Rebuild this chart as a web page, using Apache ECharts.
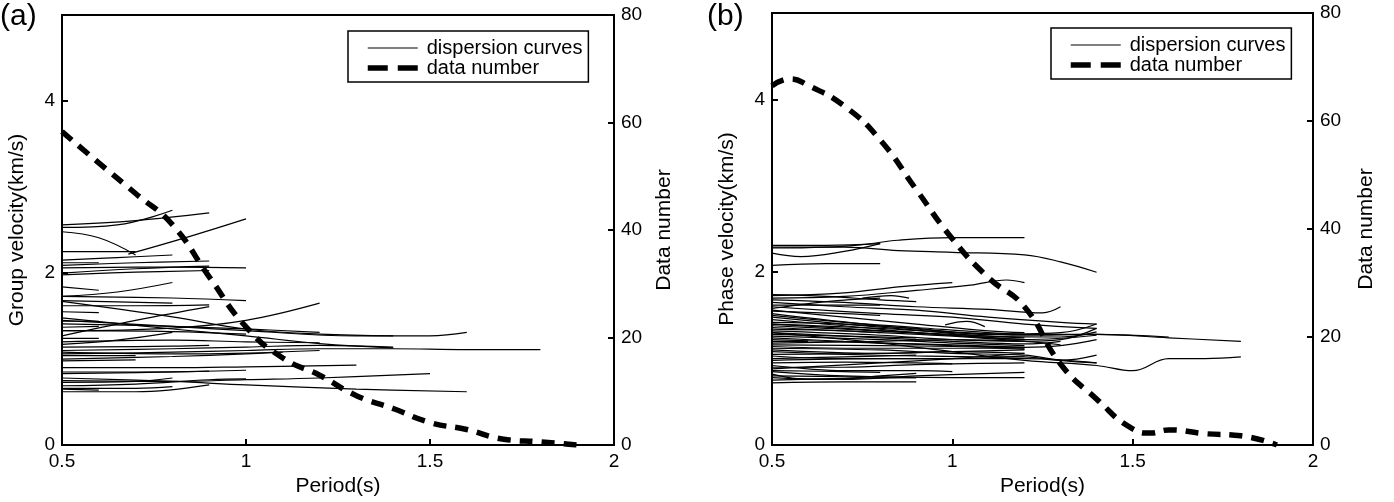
<!DOCTYPE html>
<html>
<head>
<meta charset="utf-8">
<script src="https://cdn.jsdelivr.net/npm/echarts@6/dist/echarts.min.js"></script>
<style>
  html, body { margin: 0; padding: 0; background: #fff; }
  #chart { width: 1394px; height: 502px; }
</style>
</head>
<body>
<div id="chart"></div>
<script>
// data number curves (right axis)
var periodsA = [0.5, 0.6, 0.7, 0.8, 0.9, 1.0, 1.1, 1.2, 1.3, 1.4, 1.5, 1.6, 1.7, 1.8, 1.9]
var numbersA = [58.3, 52.5, 46.8, 41, 31.3, 22, 16.2, 13, 9.2, 6.8, 4.2, 2.9, 1.1, 0.6, 0]
var periodsB = [0.5, 0.55, 0.6, 0.7, 0.8, 0.9, 1.0, 1.1, 1.2, 1.3, 1.4, 1.5, 1.55, 1.6, 1.7, 1.8, 1.9]
var numbersB = [66.5, 67.8, 66.6, 62.8, 56.5, 47.3, 38.2, 31, 25.6, 15, 8.5, 3, 2.2, 2.8, 2.1, 1.7, 0]

// group velocity dispersion curves, panel (a): [period, km/s]
var curvesA = [
  [[0.5,2.56],[0.7,2.61],[0.9,2.70]],
  [[0.5,2.53],[0.65,2.56],[0.8,2.73]],
  [[0.5,2.48],[0.6,2.41],[0.7,2.21]],
  [[0.68,2.22],[0.85,2.43],[1.0,2.63]],
  [[0.5,2.25],[0.7,2.25]],
  [[0.5,2.15],[0.65,2.18],[0.8,2.21]],
  [[0.5,2.12],[0.6,2.12]],
  [[0.5,2.09],[0.7,2.12],[0.9,2.14]],
  [[0.5,2.06],[0.8,2.07],[1.0,2.06]],
  [[0.5,2.00],[0.7,2.05],[0.9,2.08]],
  [[0.5,1.98],[0.7,2.01],[0.9,2.03]],
  [[0.5,1.84],[0.6,1.80]],
  [[0.5,1.73],[0.65,1.78],[0.8,1.89]],
  [[0.5,1.73],[0.8,1.71],[1.0,1.68]],
  [[0.5,1.68],[0.8,1.65]],
  [[0.5,1.67],[0.8,1.49],[1.0,1.35],[1.2,1.29],[1.4,1.27]],
  [[0.5,1.62],[0.7,1.62],[0.9,1.63]],
  [[0.5,1.27],[0.7,1.45],[0.9,1.61]],
  [[0.5,1.55],[0.6,1.54]],
  [[0.5,1.45],[0.8,1.38],[1.0,1.33],[1.3,1.27],[1.5,1.27],[1.6,1.31]],
  [[0.5,1.44],[0.6,1.44]],
  [[0.5,1.41],[0.8,1.38],[1.0,1.35],[1.2,1.31]],
  [[0.5,1.33],[0.8,1.36],[1.0,1.45],[1.2,1.65]],
  [[0.5,1.37],[0.6,1.38]],
  [[0.5,1.33],[0.8,1.32],[1.0,1.29]],
  [[0.5,1.48],[0.8,1.35],[1.0,1.27],[1.2,1.18],[1.4,1.13]],
  [[0.5,1.24],[0.6,1.24]],
  [[0.5,1.20],[0.8,1.22],[1.0,1.20],[1.2,1.19]],
  [[0.5,1.14],[0.8,1.15],[0.9,1.16]],
  [[0.5,1.10],[0.8,1.12],[1.0,1.14],[1.2,1.16],[1.4,1.14]],
  [[0.5,1.06],[0.8,1.08],[1.0,1.10],[1.2,1.12],[1.4,1.12],[1.6,1.11],[1.8,1.11]],
  [[0.5,1.04],[0.7,1.04]],
  [[0.5,1.00],[0.8,1.03],[1.0,1.06],[1.1,1.08]],
  [[0.5,1.08],[0.8,1.06],[1.0,1.07],[1.2,1.10]],
  [[0.5,0.98],[0.7,0.99]],
  [[0.5,0.90],[0.8,0.90],[1.0,0.91],[1.3,0.93]],
  [[0.5,0.85],[0.7,0.85],[0.9,0.86]],
  [[0.5,0.83],[0.8,0.85],[1.0,0.87]],
  [[0.5,0.75],[0.8,0.74],[1.0,0.76],[1.2,0.78],[1.5,0.83]],
  [[0.5,0.78],[0.8,0.74],[1.0,0.70],[1.3,0.65],[1.6,0.62]],
  [[0.5,0.73],[0.7,0.74],[0.8,0.78]],
  [[0.5,0.69],[0.7,0.71],[0.9,0.76],[1.0,0.77]],
  [[0.5,0.66],[0.7,0.66],[0.8,0.68]],
  [[0.5,0.62],[0.7,0.62],[0.9,0.70]],
  [[0.5,0.65],[0.6,0.64]],
  [[0.5,1.17],[0.65,1.22],[0.8,1.31]]
]

// phase velocity dispersion curves, panel (b): [period, km/s]
var curvesB = [
  [[0.5,2.31],[0.65,2.31],[0.8,2.33]],
  [[0.5,2.28],[0.65,2.29],[0.75,2.32],[0.85,2.37],[1.0,2.40],[1.2,2.40]],
  [[0.5,2.29],[0.7,2.29],[0.85,2.25],[1.0,2.23],[1.2,2.20],[1.3,2.12],[1.4,2.00]],
  [[0.5,2.22],[0.58,2.18],[0.7,2.24],[0.8,2.33]],
  [[0.5,2.08],[0.65,2.10],[0.8,2.10]],
  [[0.5,1.73],[0.7,1.76],[0.85,1.83],[1.0,1.88]],
  [[0.5,1.70],[0.7,1.72],[0.9,1.79],[1.05,1.85],[1.15,1.91],[1.2,1.88]],
  [[0.5,1.74],[0.65,1.72],[0.8,1.68],[0.9,1.66]],
  [[0.5,1.68],[0.7,1.65],[0.9,1.60],[1.1,1.57],[1.25,1.53],[1.3,1.60]],
  [[0.5,1.65],[0.7,1.60],[0.9,1.56],[1.1,1.48],[1.3,1.42],[1.4,1.40]],
  [[0.5,1.62],[0.7,1.62],[0.8,1.62]],
  [[0.5,1.55],[0.7,1.52],[0.8,1.50]],
  [[0.5,1.58],[0.65,1.66],[0.8,1.70]],
  [[0.5,1.50],[0.7,1.42],[0.9,1.36],[1.1,1.30],[1.2,1.28]],
  [[0.5,1.52],[0.8,1.38],[1.0,1.31],[1.2,1.27],[1.4,1.28],[1.6,1.24],[1.8,1.20]],
  [[0.5,1.30],[0.8,1.18],[1.0,1.08],[1.2,0.98],[1.4,0.92],[1.5,0.86],[1.6,1.00],[1.7,1.00],[1.8,1.02]],
  [[0.5,1.40],[0.8,1.35],[1.0,1.30],[1.2,1.28],[1.4,1.28],[1.6,1.25]],
  [[0.5,1.45],[0.7,1.38],[0.9,1.30],[1.1,1.24],[1.2,1.22],[1.4,1.27]],
  [[0.5,1.42],[0.7,1.40],[0.9,1.35],[1.1,1.28],[1.3,1.30],[1.4,1.40]],
  [[0.5,1.40],[0.7,1.35],[0.9,1.30],[1.2,1.24]],
  [[0.5,1.38],[0.7,1.34],[1.0,1.27],[1.2,1.22]],
  [[0.5,1.36],[0.8,1.30],[1.0,1.26],[1.2,1.20]],
  [[0.5,1.34],[0.7,1.32],[0.8,1.30]],
  [[0.5,1.32],[0.8,1.27],[1.0,1.22],[1.2,1.20],[1.3,1.22],[1.4,1.35]],
  [[0.5,1.30],[0.8,1.24],[1.0,1.20],[1.2,1.17],[1.3,1.20]],
  [[0.5,1.28],[0.7,1.26],[0.9,1.24]],
  [[0.5,1.26],[0.8,1.22],[1.0,1.18],[1.2,1.15]],
  [[0.5,1.24],[0.7,1.20],[1.0,1.15],[1.2,1.13],[1.3,1.15],[1.4,1.22]],
  [[0.5,1.22],[0.8,1.18],[1.0,1.16],[1.2,1.13]],
  [[0.5,1.20],[0.6,1.20]],
  [[0.5,1.18],[0.8,1.20],[1.0,1.22],[1.2,1.20],[1.3,1.16]],
  [[0.5,1.16],[0.8,1.15],[1.0,1.14],[1.2,1.12]],
  [[0.5,1.14],[0.7,1.12],[0.9,1.12],[1.1,1.12],[1.2,1.11]],
  [[0.5,1.10],[0.8,1.06],[1.0,1.08],[1.2,1.10]],
  [[0.5,1.08],[0.7,1.05],[0.9,1.03],[1.1,1.02],[1.2,1.03]],
  [[0.5,1.05],[0.8,1.06],[1.0,1.08],[1.2,1.06]],
  [[0.5,1.03],[0.7,1.00],[0.9,1.00],[1.2,1.00],[1.4,0.95]],
  [[0.5,1.00],[0.7,1.02],[0.9,1.04]],
  [[0.5,0.98],[0.8,1.00],[1.0,1.00],[1.2,1.02],[1.3,0.98],[1.4,1.04]],
  [[0.5,0.95],[0.7,0.96],[0.9,0.95],[1.0,0.94]],
  [[0.5,0.92],[0.6,0.88],[0.7,0.86],[0.9,0.86],[1.0,0.85]],
  [[0.5,0.90],[0.7,0.90],[0.9,0.93],[1.2,0.95]],
  [[0.5,0.86],[0.7,0.85],[0.8,0.84]],
  [[0.5,0.82],[0.6,0.76],[0.7,0.76],[0.9,0.80],[1.2,0.84]],
  [[0.5,0.80],[0.7,0.79],[0.9,0.78]],
  [[0.5,0.78],[0.65,0.76],[0.8,0.80],[0.9,0.83]],
  [[0.5,0.75],[0.7,0.77],[0.9,0.78]],
  [[0.5,0.72],[0.7,0.73],[0.9,0.73]],
  [[0.5,0.85],[0.7,0.80],[1.0,0.78],[1.2,0.78]],
  [[0.98,1.39],[1.04,1.43],[1.09,1.37]],
  [[0.75,1.70],[0.83,1.73],[0.88,1.70]],
  [[0.5,1.60],[0.8,1.52],[1.0,1.48],[1.2,1.40],[1.4,1.35]],
  [[0.5,1.48],[0.7,1.40],[0.9,1.33],[1.1,1.26],[1.3,1.25],[1.4,1.31]],
  [[0.5,1.56],[0.7,1.48],[0.9,1.40],[1.1,1.32],[1.2,1.30]],
  [[0.5,1.12],[0.8,1.10],[1.0,1.06],[1.2,1.04],[1.3,0.98],[1.4,0.95]],
  [[0.5,0.88],[0.8,0.95],[1.0,1.00],[1.2,1.06]]
]

var font = "'Liberation Sans', Arial, sans-serif"
var thin = { color: '#000', width: 1.2 }
var dashed = { color: '#000', width: 5.5, type: [13, 9], cap: 'butt' }

function zip(xs, ys) {
  return xs.map(function (x, i) { return [x, ys[i]] })
}

function axisBase(extra) {
  var base = {
    type: 'value',
    splitLine: { show: false },
    axisLine: { show: true, lineStyle: { color: '#000', width: 2 } },
    axisTick: { show: true, inside: true, length: 6, lineStyle: { color: '#000', width: 2 } },
    axisLabel: { color: '#000', fontFamily: font, fontSize: 19, margin: 7 },
    nameTextStyle: { color: '#000', fontFamily: font, fontSize: 21 },
    nameLocation: 'middle'
  }
  return Object.assign(base, extra)
}

var series = []
curvesA.forEach(function (c) {
  series.push({
    name: 'dispersion curves', type: 'line', xAxisIndex: 0, yAxisIndex: 0,
    data: c, smooth: 0.4, symbol: 'none', silent: true,
    itemStyle: { color: '#000' }, lineStyle: thin
  })
})
curvesB.forEach(function (c) {
  series.push({
    name: 'dispersion curves', type: 'line', xAxisIndex: 1, yAxisIndex: 2,
    data: c, smooth: 0.4, symbol: 'none', silent: true,
    itemStyle: { color: '#000' }, lineStyle: thin
  })
})
series.push({
  name: 'data number', type: 'line', xAxisIndex: 0, yAxisIndex: 1,
  data: zip(periodsA, numbersA), smooth: 0.5, symbol: 'none', z: 5,
  itemStyle: { color: '#000' }, lineStyle: dashed
})
series.push({
  name: 'data number', type: 'line', xAxisIndex: 1, yAxisIndex: 3,
  data: zip(periodsB, numbersB), smooth: 0.5, symbol: 'none', z: 5,
  itemStyle: { color: '#000' }, lineStyle: dashed
})

function legendAt(left, top) {
  return {
    left: left, top: top, orient: 'vertical',
    data: [
      { name: 'dispersion curves', itemStyle: { opacity: 0 }, lineStyle: thin },
      { name: 'data number', itemStyle: { opacity: 0 }, lineStyle: { color: '#000', width: 5.5, type: [20, 10], cap: 'butt' } }
    ],
    itemWidth: 50, itemHeight: 14, itemGap: 0,
    borderColor: '#000', borderWidth: 1.5, borderRadius: 0,
    padding: [7, 6, 4, 17],
    selectedMode: false,
    textStyle: { color: '#000', fontFamily: font, fontSize: 20, padding: [0, 0, 0, 4] }
  }
}

var chart = echarts.init(document.getElementById('chart'))
chart.setOption({
  animation: false,
  backgroundColor: '#fff',
  title: [
    { text: '(a)', left: 0, top: 2, padding: 0, textStyle: { fontFamily: font, fontSize: 30, fontWeight: 'normal', color: '#000' } },
    { text: '(b)', left: 707, top: 2, padding: 0, textStyle: { fontFamily: font, fontSize: 30, fontWeight: 'normal', color: '#000' } }
  ],
  legend: [legendAt(348, 31), legendAt(1051, 28)],
  grid: [
    { left: 62, right: 780, top: 15, bottom: 56, show: true, borderColor: '#000', borderWidth: 2 },
    { left: 772, right: 81, top: 13, bottom: 57, show: true, borderColor: '#000', borderWidth: 2 }
  ],
  xAxis: [
    axisBase({ gridIndex: 0, min: 0.5, max: 2, interval: 0.5, name: 'Period(s)', nameGap: 30 }),
    axisBase({ gridIndex: 1, min: 0.5, max: 2, interval: 0.5, name: 'Period(s)', nameGap: 30 })
  ],
  yAxis: [
    axisBase({ gridIndex: 0, position: 'left', min: 0, max: 5, interval: 2, name: 'Group velocity(km/s)', nameGap: 34, nameRotate: 90,
      axisLabel: { color: '#000', fontFamily: font, fontSize: 19, margin: 7, showMaxLabel: false } }),
    axisBase({ gridIndex: 0, position: 'right', min: 0, max: 80, interval: 20, name: 'Data number', nameGap: 40, nameRotate: 90 }),
    axisBase({ gridIndex: 1, position: 'left', min: 0, max: 5, interval: 2, name: 'Phase velocity(km/s)', nameGap: 34, nameRotate: 90,
      axisLabel: { color: '#000', fontFamily: font, fontSize: 19, margin: 7, showMaxLabel: false } }),
    axisBase({ gridIndex: 1, position: 'right', min: 0, max: 80, interval: 20, name: 'Data number', nameGap: 43, nameRotate: 90 })
  ],
  series: series
})
</script>
</body>
</html>
